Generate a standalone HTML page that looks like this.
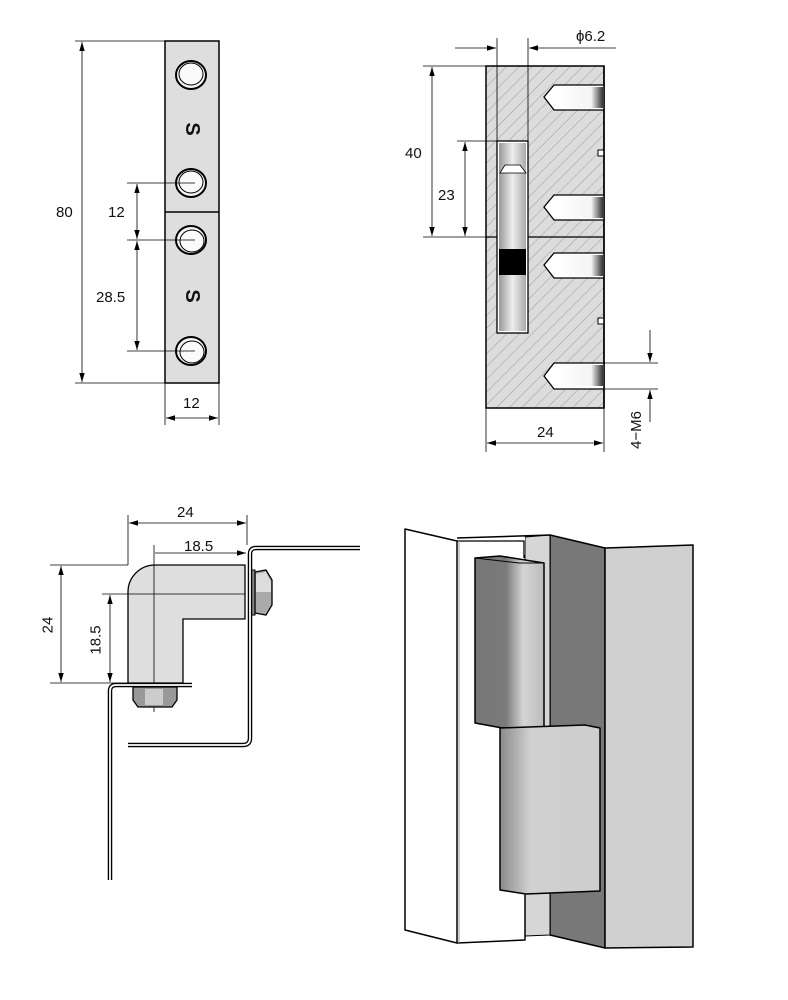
<!DOCTYPE html>
<html><head><meta charset="utf-8"><style>
html,body{margin:0;padding:0;background:#fff}
svg{display:block}
text{font-family:"Liberation Sans",sans-serif;font-size:15px;fill:#111}
</style></head><body>
<svg width="788" height="1000" viewBox="0 0 788 1000" xmlns="http://www.w3.org/2000/svg">
<defs>
<marker id="a" viewBox="0 0 10 10" refX="10" refY="5" markerWidth="9" markerHeight="9" orient="auto-start-reverse" markerUnits="userSpaceOnUse"><path d="M0,2 L10,5 L0,8 z" fill="#000"/></marker>
<pattern id="h" width="9" height="9" patternUnits="userSpaceOnUse" patternTransform="rotate(45)"><rect width="9" height="9" fill="#dcdcdc"/><line x1="0" y1="0" x2="0" y2="9" stroke="#8a8a8a" stroke-width="0.8"/></pattern>
<linearGradient id="cy" x1="0" x2="1"><stop offset="0" stop-color="#999"/><stop offset="0.5" stop-color="#eee"/><stop offset="1" stop-color="#aaa"/></linearGradient>
<linearGradient id="k1" x1="0" x2="1"><stop offset="0" stop-color="#777"/><stop offset="0.45" stop-color="#7a7a7a"/><stop offset="0.7" stop-color="#d5d5d5"/><stop offset="1" stop-color="#bbb"/></linearGradient>
<linearGradient id="k2" x1="0" x2="1"><stop offset="0" stop-color="#8a8a8a"/><stop offset="0.3" stop-color="#d0d0d0"/><stop offset="1" stop-color="#cdcdcd"/></linearGradient>
<linearGradient id="hole" x1="0" x2="1"><stop offset="0" stop-color="#fff"/><stop offset="0.75" stop-color="#f4f4f4"/><stop offset="1" stop-color="#333"/></linearGradient>
</defs>

<!-- ===== Top-left plate ===== -->
<g stroke="#000" stroke-width="0.8" fill="none">
<line x1="75" y1="41" x2="165" y2="41"/><line x1="75" y1="383" x2="165" y2="383"/>
<line x1="82" y1="42" x2="82" y2="382" marker-start="url(#a)" marker-end="url(#a)"/>
<line x1="137" y1="184" x2="137" y2="239" marker-start="url(#a)" marker-end="url(#a)"/>
<line x1="137" y1="241" x2="137" y2="350" marker-start="url(#a)" marker-end="url(#a)"/>
<line x1="165" y1="383" x2="165" y2="425"/><line x1="219" y1="383" x2="219" y2="425"/>
<line x1="166" y1="418" x2="218" y2="418" marker-start="url(#a)" marker-end="url(#a)"/>
</g>
<rect x="165" y="41" width="54" height="342" fill="#dedede" stroke="#000" stroke-width="1.5"/>
<line x1="165" y1="212" x2="219" y2="212" stroke="#000" stroke-width="1.5"/>
<g stroke="#000" fill="#f4f4f4">
<ellipse cx="191" cy="75" rx="15" ry="14" stroke-width="2"/><ellipse cx="191" cy="74" rx="12" ry="11" stroke-width="1" fill="#fafafa"/>
<ellipse cx="191" cy="183" rx="15" ry="14" stroke-width="2"/><ellipse cx="191" cy="182" rx="12" ry="11" stroke-width="1" fill="#fafafa"/>
<ellipse cx="191" cy="240" rx="15" ry="14" stroke-width="2"/><ellipse cx="192" cy="241" rx="12" ry="11" stroke-width="1" fill="#fafafa"/>
<ellipse cx="191" cy="351" rx="15" ry="14" stroke-width="2"/><ellipse cx="192" cy="352" rx="12" ry="11" stroke-width="1" fill="#fafafa"/>
</g>
<g stroke="#000" stroke-width="0.8"><line x1="127" y1="183" x2="195" y2="183"/><line x1="127" y1="240" x2="195" y2="240"/><line x1="127" y1="351" x2="195" y2="351"/></g>
<text x="192" y="129" transform="rotate(90 192 129)" text-anchor="middle" dominant-baseline="central" style="font-size:20px;font-weight:bold">S</text>
<text x="192" y="296" transform="rotate(90 192 296)" text-anchor="middle" dominant-baseline="central" style="font-size:20px;font-weight:bold">S</text>
<text x="56" y="217">80</text>
<text x="108" y="217">12</text>
<text x="96" y="302">28.5</text>
<text x="183" y="408">12</text>

<!-- ===== Top-right section ===== -->
<rect x="486" y="66" width="118" height="342" fill="url(#h)" stroke="#000" stroke-width="1.5"/>
<line x1="486" y1="237" x2="604" y2="237" stroke="#000" stroke-width="1.2"/>
<rect x="497" y="141" width="31" height="192" fill="#fff" stroke="#000" stroke-width="1.3"/>
<rect x="499" y="143" width="27" height="188" fill="url(#cy)"/>
<path d="M500,173 L505,165 L520,165 L526,173 Z" fill="#fff" stroke="#000" stroke-width="0.8"/>
<rect x="499" y="249" width="27" height="26" fill="#000"/>
<g fill="#fff" stroke="#000" stroke-width="1.3">
<path d="M604,85 L554,85 L544,97 L554,110 L604,110"/>
<path d="M604,195 L554,195 L544,207 L554,220 L604,220"/>
<path d="M604,253 L554,253 L544,265 L554,278 L604,278"/>
<path d="M604,363 L554,363 L544,376 L554,389 L604,389"/>
</g>
<g fill="url(#hole)"><rect x="556" y="87" width="47" height="21"/><rect x="556" y="197" width="47" height="21"/><rect x="556" y="255" width="47" height="21"/><rect x="556" y="365" width="47" height="21"/></g>
<g fill="#fff" stroke="#000" stroke-width="1"><rect x="598" y="150" width="6" height="6"/><rect x="598" y="318" width="6" height="6"/></g>
<line x1="604" y1="66" x2="604" y2="408" stroke="#000" stroke-width="1.5"/>
<g stroke="#000" stroke-width="0.8" fill="none">
<line x1="497" y1="38" x2="497" y2="141"/><line x1="528" y1="38" x2="528" y2="141"/>
<line x1="455" y1="48" x2="496" y2="48" marker-end="url(#a)"/>
<line x1="616" y1="48" x2="529" y2="48" marker-end="url(#a)"/>
<line x1="423" y1="66" x2="486" y2="66"/><line x1="423" y1="237" x2="497" y2="237"/>
<line x1="432" y1="67" x2="432" y2="236" marker-start="url(#a)" marker-end="url(#a)"/>
<line x1="457" y1="141" x2="497" y2="141"/>
<line x1="465" y1="142" x2="465" y2="236" marker-start="url(#a)" marker-end="url(#a)"/>
<line x1="604" y1="363" x2="658" y2="363"/><line x1="604" y1="389" x2="658" y2="389"/>
<line x1="650" y1="330" x2="650" y2="362" marker-end="url(#a)"/>
<line x1="650" y1="422" x2="650" y2="390" marker-end="url(#a)"/>
<line x1="486" y1="408" x2="486" y2="452"/><line x1="604" y1="408" x2="604" y2="452"/>
<line x1="487" y1="443" x2="603" y2="443" marker-start="url(#a)" marker-end="url(#a)"/>
</g>
<text x="576" y="41">ϕ6.2</text>
<text x="405" y="158">40</text>
<text x="438" y="200">23</text>
<text x="537" y="437">24</text>
<text x="641" y="430" transform="rotate(-90 641 430)" text-anchor="middle">4−M6</text>

<!-- ===== Bottom-left ===== -->
<g stroke="#000" stroke-width="0.8" fill="none">
<line x1="128" y1="515" x2="128" y2="565"/><line x1="247" y1="515" x2="247" y2="545"/>
<line x1="129" y1="523" x2="246" y2="523" marker-start="url(#a)" marker-end="url(#a)"/>
<line x1="155" y1="553" x2="246" y2="553" marker-end="url(#a)"/>
<line x1="50" y1="565" x2="128" y2="565"/><line x1="50" y1="683" x2="128" y2="683"/>
<line x1="61" y1="566" x2="61" y2="682" marker-start="url(#a)" marker-end="url(#a)"/>
<line x1="102" y1="594" x2="128" y2="594"/>
<line x1="110" y1="595" x2="110" y2="682" marker-start="url(#a)" marker-end="url(#a)"/>
</g>
<path d="M155,565 L245,565 L245,619 L183,619 L183,683 L128,683 L128,592 A27,27 0 0 1 155,565 Z" fill="#dedede" stroke="#000" stroke-width="1.3"/>
<g stroke="#000" stroke-width="0.8"><line x1="154" y1="545" x2="154" y2="712"/><line x1="128" y1="594" x2="245" y2="594"/></g>
<rect x="250" y="570" width="5" height="45" fill="#888" stroke="#000"/>
<path d="M255,572 L266,570 L272,580 L272,605 L266,615 L255,613 Z" fill="#aaa" stroke="#000" stroke-width="1.3"/>
<path d="M256,574 L266,572 L271,582 L271,592 L256,592 Z" fill="#ddd"/>
<path d="M133,687 L177,687 L177,700 L172,707 L138,707 L133,700 Z" fill="#999" stroke="#000" stroke-width="1.3"/>
<rect x="145" y="689" width="18" height="16" fill="#ccc"/>
<g fill="none" stroke-linejoin="round">
<path d="M360,548 L256,548 Q250,548 250,554 L250,738 Q250,745 243,745 L128,745" stroke="#000" stroke-width="4.5"/>
<path d="M360,548 L256,548 Q250,548 250,554 L250,738 Q250,745 243,745 L128,745" stroke="#fff" stroke-width="1.8"/>
<path d="M192,685 L116,685 Q110,685 110,691 L110,880" stroke="#000" stroke-width="4.5"/>
<path d="M192,685 L116,685 Q110,685 110,691 L110,880" stroke="#fff" stroke-width="1.8"/>
</g>
<text x="177" y="517">24</text>
<text x="184" y="551">18.5</text>
<text x="48" y="625" transform="rotate(-90 48 625)" text-anchor="middle" dominant-baseline="central">24</text>
<text x="96" y="640" transform="rotate(-90 96 640)" text-anchor="middle" dominant-baseline="central">18.5</text>

<!-- ===== Bottom-right 3D ===== -->
<g stroke="#000" stroke-width="1.5" stroke-linejoin="round">
<polygon points="550,535 605,548 605,948 550,935" fill="#787878"/>
<polygon points="605,548 693,545 693,947 605,948" fill="#d0d0d0"/>
<polygon points="525,537 550,535 550,935 525,936" fill="#d6d6d6" stroke-width="1"/>
<polygon points="457,538 525,537 525,555 480,556 480,940 525,940 457,943" fill="#fff" stroke="none"/>
<polyline points="457,538 550,535" fill="none"/>
<polyline points="457,541 524,541 524,558" fill="none" stroke-width="1.3"/>
<polyline points="525,895 525,940 457,943" fill="none"/>
<polygon points="405,529 457,541 457,943 405,930" fill="#fff"/>
<line x1="459" y1="541" x2="459" y2="943" stroke="#999" stroke-width="1"/>
<polygon points="475,558 500,556 544,563 544,728 519,731 475,723" fill="url(#k1)"/>
<polyline points="475,558 519,563 544,563" fill="none" stroke-width="1"/>
<polygon points="500,728 585,725 600,728 600,891 526,894 500,890" fill="url(#k2)"/>
</g>
</svg>
</body></html>
